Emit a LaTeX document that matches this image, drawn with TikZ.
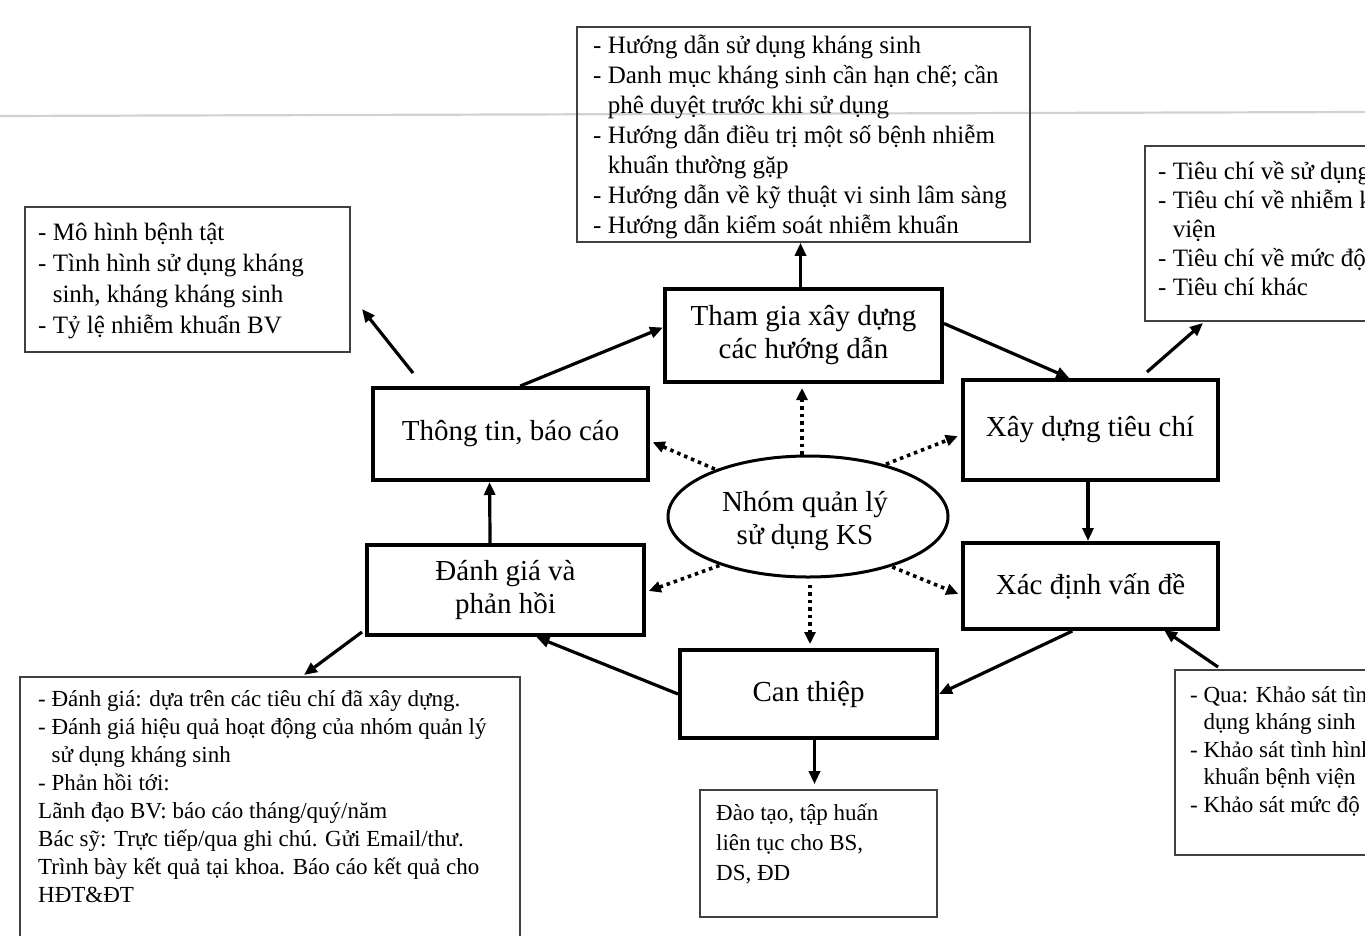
\documentclass[tikz,border=0pt]{standalone}
\usepackage{fontspec}
\setmainfont{Liberation Serif}
\usetikzlibrary{shapes.geometric,arrows.meta,calc}
\begin{document}
\begin{tikzpicture}[x=1pt,y=-1pt,
  mainbox/.style={draw, line width=4pt, rectangle, inner sep=0pt, align=center, font=\fontsize{29}{33}\selectfont},
  notebox/.style={draw, draw=black!75, line width=1.6pt, rectangle, inner sep=0pt},
  notetext/.style={anchor=north west, inner sep=0pt, align=left},
  flow/.style={line width=3.2pt, -{Triangle[length=13pt,width=11pt]}},
  dotflow/.style={line width=3.6pt, dash pattern=on 3.5pt off 4pt, -{Triangle[length=12pt,width=11pt]}}
]
\useasboundingbox (0,0) rectangle (1365,935);
\fill[white] (0,0) rectangle (1365,935);
\clip (0,0) rectangle (1365,935);

% faint scan line
\draw[black!18, line width=2.2pt] (0,116) -- (1365,112);

% main boxes
\node[mainbox, minimum width=277pt, minimum height=93pt] (tham) at (803.5,335.5) {Tham gia xây dựng\\các hướng dẫn};
\node[mainbox, minimum width=275pt, minimum height=92pt] (thong) at (510.5,434) {Thông tin, báo cáo};
\node[mainbox, minimum width=255pt, minimum height=100pt] (xay) at (1090,430) {Xây dựng tiêu chí};
\node[mainbox, minimum width=277pt, minimum height=90pt] (danh) at (505.5,590) {Đánh giá và\\phản hồi};
\node[mainbox, minimum width=255pt, minimum height=86pt] (xac) at (1090.5,586) {Xác định vấn đề};
\node[mainbox, minimum width=257pt, minimum height=88pt] (can) at (808.5,694) {Can thiệp};
\node[draw, ellipse, line width=3pt, minimum width=280pt, minimum height=121pt, inner sep=0pt] (ell) at (808,516.5) {};
\node[inner sep=0pt, align=center, font=\fontsize{29}{33}\selectfont] (elltext) at (805,521) {Nhóm quản lý\\sử dụng KS};

% note boxes
\node[notebox, minimum width=453pt, minimum height=215pt] (guides) at (803.5,134.5) {};
\node[notetext, font=\fontsize{25}{30}\selectfont] (guidestext) at (593,35) {%
- Hướng dẫn sử dụng kháng sinh\\
- Danh mục kháng sinh cần hạn chế; cần\\
\phantom{- }phê duyệt trước khi sử dụng\\
- Hướng dẫn điều trị một số bệnh nhiễm\\
\phantom{- }khuẩn thường gặp\\
- Hướng dẫn về kỹ thuật vi sinh lâm sàng\\
- Hướng dẫn kiểm soát nhiễm khuẩn};

\node[notebox, minimum width=325pt, minimum height=145pt] (mo) at (187.5,279.5) {};
\node[notetext, font=\fontsize{25}{31}\selectfont] (motext) at (38,223) {%
- Mô hình bệnh tật\\
- Tình hình sử dụng kháng\\
\phantom{- }sinh, kháng kháng sinh\\
- Tỷ lệ nhiễm khuẩn BV};

\node[notebox, minimum width=280pt, minimum height=175pt] (tc) at (1285,233.5) {};
\node[notetext, font=\fontsize{25}{29}\selectfont] (tctext) at (1158,161) {%
- Tiêu chí về sử dụng\\
- Tiêu chí về nhiễm khuẩn\\
\phantom{- }viện\\
- Tiêu chí về mức độ\\
- Tiêu chí khác};

\node[notebox, minimum width=260pt, minimum height=185pt] (qua) at (1305,762.5) {};
\node[notetext, font=\fontsize{23}{27.5}\selectfont] (quatext) at (1190,686) {%
- Qua: Khảo sát tình\\
\phantom{- }dụng kháng sinh\\
- Khảo sát tình hình\\
\phantom{- }khuẩn bệnh viện\\
- Khảo sát mức độ};

\node[notebox, minimum width=237pt, minimum height=127pt] (dao) at (818.5,853.5) {};
\node[notetext, font=\fontsize{23}{30}\selectfont] (daotext) at (716,804) {%
Đào tạo, tập huấn\\
liên tục cho BS,\\
DS, ĐD};

\node[notebox, minimum width=500pt, minimum height=300pt] (bl) at (270,827) {};
\node[notetext, font=\fontsize{23}{28}\selectfont] (bltext) at (38,690) {%
- Đánh giá: dựa trên các tiêu chí đã xây dựng.\\
- Đánh giá hiệu quả hoạt động của nhóm quản lý\\
\phantom{- }sử dụng kháng sinh\\
- Phản hồi tới:\\
Lãnh đạo BV: báo cáo tháng/quý/năm\\
Bác sỹ: Trực tiếp/qua ghi chú. Gửi Email/thư.\\
Trình bày kết quả tại khoa. Báo cáo kết quả cho\\
HĐT\&ĐT};

% free ends
\coordinate (thongout) at (413,373);
\coordinate (moin) at (362,309);
\coordinate (xayout) at (1147,372);
\coordinate (tcin) at (1203,323);
\coordinate (danhout) at (362,632);
\coordinate (blin) at (304,675);
\coordinate (quaout) at (1218,667);
\coordinate (xacin) at (1164,630);

% cycle arrows
\draw[flow] ($(thong.north west)!0.535!(thong.north east)$) -- ([yshift=8pt]tham.west);
\draw[flow] ([yshift=12pt]tham.east) -- ($(xay.north west)!0.42!(xay.north east)$);
\draw[flow] ([xshift=-2pt]xay.south) -- ([xshift=-2pt]xay.south |- xac.north);
\draw[flow] ($(xac.south west)!0.43!(xac.south east)$) -- (can.east);
\draw[flow] (can.west) -- ($(danh.south west)!0.61!(danh.south east)$);
\draw[flow] ($(danh.north west)!0.445!(danh.north east)$) -- ($(thong.south west)!0.425!(thong.south east)$);
\draw[flow] ([xshift=-3pt]tham.north) -- ([xshift=-3pt]tham.north |- guides.south);
\draw[flow, shorten >=5pt] ([xshift=6pt]can.south) -- ([xshift=6pt]can.south |- dao.north);

% arrows to notes
\draw[flow] (thongout) -- (moin);
\draw[flow] (xayout) -- (tcin);
\draw[flow] (danhout) -- (blin);
\draw[flow] (quaout) -- (xacin);

% dotted arrows from the group
\draw[dotflow, shorten >=4pt] ([xshift=-6pt]ell.north) -- ([xshift=-6pt]ell.north |- tham.south);
\draw[dotflow, shorten <=1pt, shorten >=3pt] (ell.153) -- ([yshift=-7pt]thong.east);
\draw[dotflow, shorten <=1pt, shorten >=3pt] (ell.34) -- ([yshift=-5pt]xay.west);
\draw[dotflow, shorten <=1pt, shorten >=3pt] (ell.209) -- ([yshift=-2pt]danh.east);
\draw[dotflow, shorten <=1pt, shorten >=3pt] (ell.-31) -- ([yshift=-9pt]xac.west);
\draw[dotflow, shorten <=6pt, shorten >=4pt] ([xshift=2pt]ell.south) -- ([xshift=2pt]ell.south |- can.north);
\end{tikzpicture}
\end{document}
